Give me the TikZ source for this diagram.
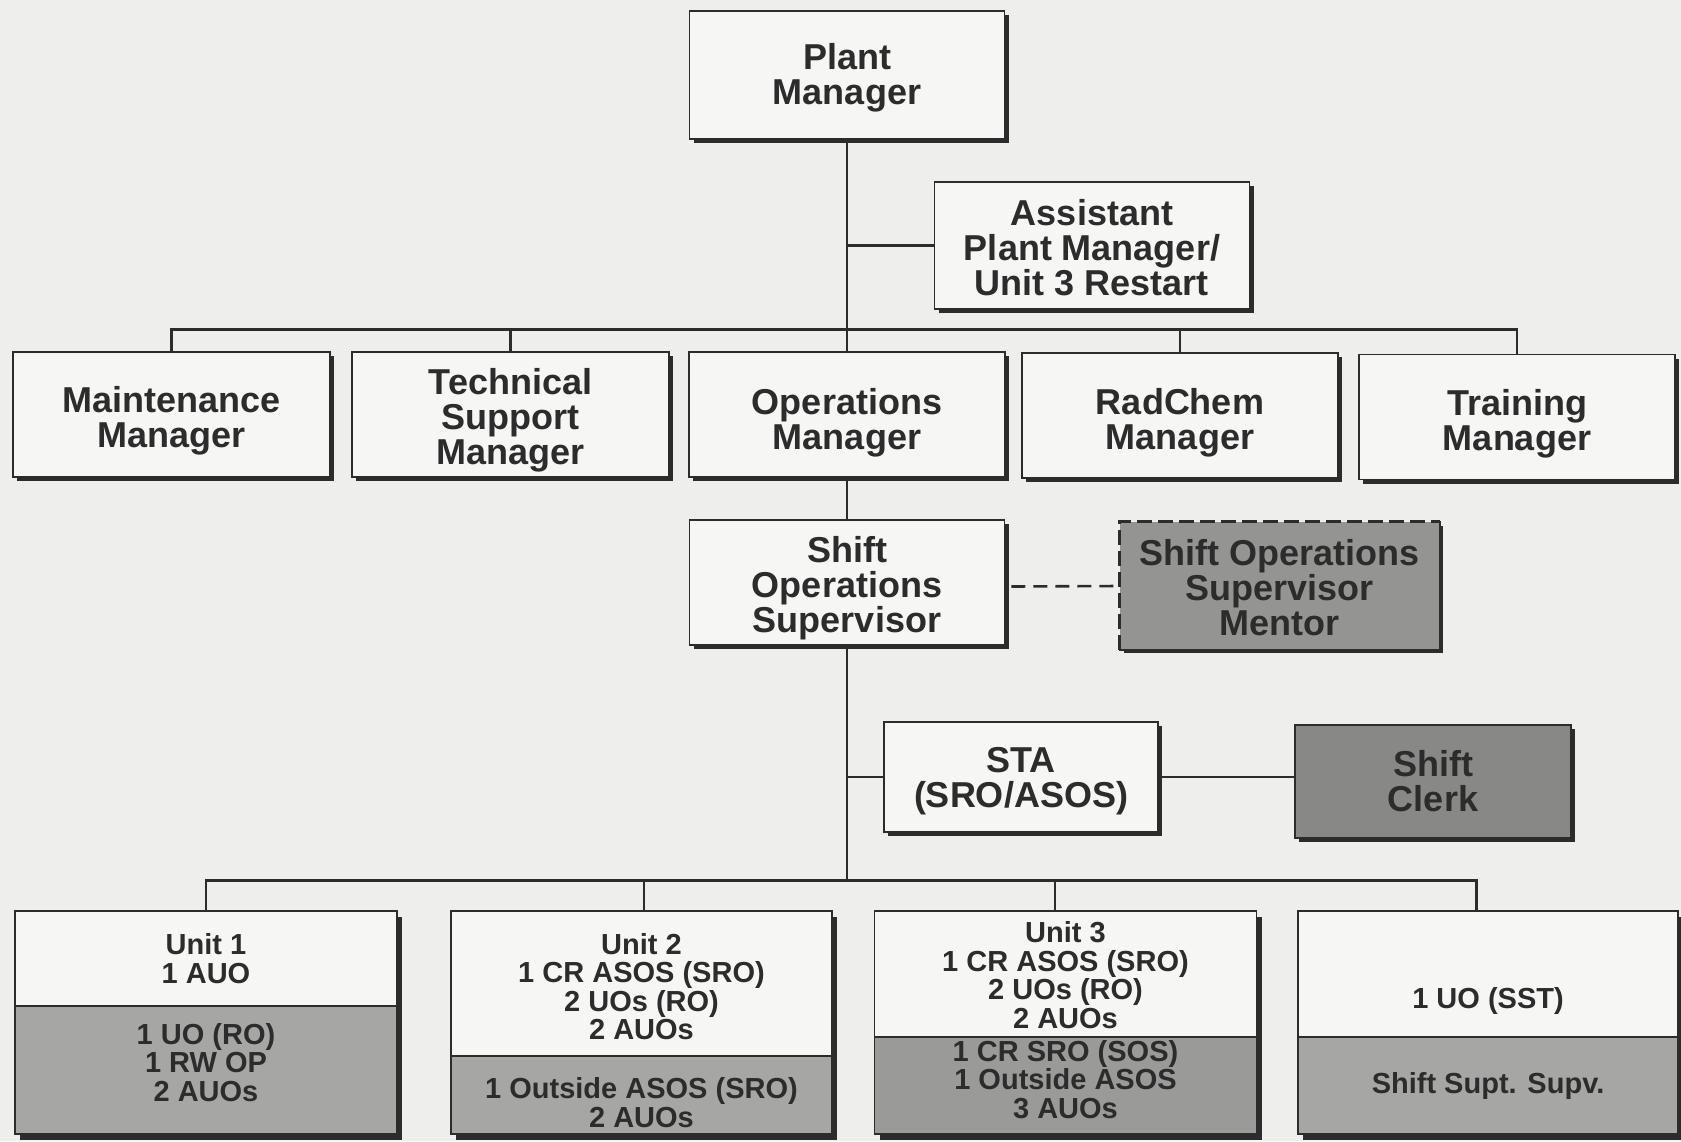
\documentclass[tikz,border=0pt]{standalone}
\usepackage{fontspec}
\setmainfont{Liberation Sans}
\usetikzlibrary{shadows,calc}
\definecolor{bg}{HTML}{EEEEEC}
\definecolor{boxfill}{HTML}{F6F6F4}
\definecolor{ink}{HTML}{2C2C2C}
\definecolor{unitgray}{HTML}{A6A6A4}
\definecolor{unitgrayB}{HTML}{9A9A98}
\definecolor{mentorgray}{HTML}{949492}
\definecolor{clerkgray}{HTML}{888886}
\begin{document}
\begin{tikzpicture}[x=1pt,y=-1pt,
  btext/.style={align=center, inner sep=0pt, text=ink, font=\fontsize{36}{35}\selectfont\bfseries},
  stext/.style={align=center, inner sep=0pt, text=ink, font=\fontsize{29}{28.6}\selectfont\bfseries},
  box/.style={draw=ink, line width=1.8pt, fill=boxfill, inner sep=0pt,
    drop shadow={shadow xshift=4pt, shadow yshift=-4pt, fill=ink, opacity=1}},
  graybox/.style={box, draw=none},
  unitpart/.style={draw=ink, line width=1.8pt, inner sep=0pt, minimum height=#1,
    drop shadow={shadow xshift=5pt, shadow yshift=-6pt, fill=ink, opacity=1}},
  conn/.style={draw=ink, line width=2.8pt},
  dconn/.style={draw=ink, line width=2.6pt, dash pattern=on 14pt off 8pt},
  dborder/.style={draw=ink, line width=3pt, dash pattern=on 15pt off 6pt},
]
\fill[bg] (0,0) rectangle (1681,1141);
\useasboundingbox (0,0) rectangle (1681,1141);

% top levels
\node[box, minimum width=315pt, minimum height=128pt] (pm) at (847,75) {};
\node[btext] (pmt) at ($(pm.center)+(0,2.7)$) {Plant\\Manager};
\node[box, minimum width=315pt, minimum height=127pt] (asst) at (1092,245.5) {};
\node[btext] (asstt) at ($(asst.center)+(0,2)$) {Assistant\\Plant Manager/\\Unit 3 Restart};

% managers row
\node[box, minimum width=317pt, minimum height=125pt] (maint) at (171.5,414.5) {};
\node[btext] (maintt) at ($(maint.center)+(0,6.4)$) {Maintenance\\Manager};
\node[box, minimum width=317pt, minimum height=125pt] (tech) at (510.5,414.5) {};
\node[btext] (techt) at ($(tech.center)+(0,5.4)$) {Technical\\Support\\Manager};
\node[box, minimum width=316pt, minimum height=125pt] (ops) at (847,414.5) {};
\node[btext] (opst) at ($(ops.center)+(0,8)$) {Operations\\Manager};
\node[box, minimum width=316pt, minimum height=125pt] (rad) at (1180,415.5) {};
\node[btext] (radt) at ($(rad.center)+(0,7.6)$) {RadChem\\Manager};
\node[box, minimum width=316pt, minimum height=125pt] (train) at (1517,417) {};
\node[btext] (traint) at ($(train.center)+(0,7)$) {Training\\Manager};

% shift supervisor and mentor
\node[box, minimum width=315pt, minimum height=125pt] (sos) at (847,582.5) {};
\node[btext] (sost) at ($(sos.center)+(0,5.4)$) {Shift\\Operations\\Supervisor};
\node[graybox, fill=mentorgray, minimum width=319pt, minimum height=127pt] (men) at (1279.5,585.5) {};
\draw[dborder] (men.south west) -- (men.north west) -- (men.north east);
\draw[draw=ink, line width=2pt] (men.north east) -- (men.south east) -- (men.south west);
\node[btext] (ment) at ($(men.center)+(0,2)$) {Shift Operations\\Supervisor\\Mentor};

% STA and clerk
\node[box, minimum width=274pt, minimum height=110pt] (sta) at (1021,777) {};
\node[btext] (stat) at ($(sta.center)+(0,3.7)$) {STA\\(SRO/ASOS)};
\node[box, fill=clerkgray, minimum width=276pt, minimum height=113pt] (clerk) at (1433,781.5) {};
\node[btext] (clerkt) at (clerk.center) {Shift\\Clerk};

% units
\node[unitpart=95pt, fill=boxfill, minimum width=382pt] (u1a) at (206,958.5) {};
\node[unitpart=128pt, fill=unitgray, minimum width=382pt] (u1b) at (206,1070) {};
\node[stext] (u1at) at (u1a.center) {Unit 1\\1 AUO};
\node[stext] (u1bt) at ($(u1b.center)+(0,-7.5)$) {1 UO (RO)\\1 RW OP\\2 AUOs};

\node[unitpart=145pt, fill=boxfill, minimum width=381pt] (u2a) at (641.5,983.5) {};
\node[unitpart=78pt, fill=unitgray, minimum width=381pt] (u2b) at (641.5,1095) {};
\node[stext] (u2at) at ($(u2a.center)+(0,3.2)$) {Unit 2\\1 CR ASOS (SRO)\\2 UOs (RO)\\2 AUOs};
\node[stext] (u2bt) at ($(u2b.center)+(0,7.5)$) {1 Outside ASOS (SRO)\\2 AUOs};

\node[unitpart=126pt, fill=boxfill, minimum width=382pt] (u3a) at (1065.5,974) {};
\node[unitpart=97pt, fill=unitgrayB, minimum width=382pt] (u3b) at (1065.5,1085.5) {};
\node[stext] (u3at) at ($(u3a.center)+(0,1)$) {Unit 3\\1 CR ASOS (SRO)\\2 UOs (RO)\\2 AUOs};
\node[stext] (u3bt) at ($(u3b.center)+(0,-6)$) {1 CR SRO (SOS)\\1 Outside ASOS\\3 AUOs};

\node[unitpart=126pt, fill=boxfill, minimum width=380pt] (u4a) at (1488,974) {};
\node[unitpart=97pt, fill=unitgray, minimum width=380pt] (u4b) at (1488,1085.5) {};
\node[stext] (u4at) at ($(u4a.center)+(0,26.8)$) {1 UO (SST)};
\node[stext] (u4bt) at (u4b.center) {Shift Supt. Supv.};

% connectors
\draw[conn] (pm.south) -- (ops.north);
\draw[conn] (asst.west) -- (asst.west -| pm.south);
\draw[conn] (maint.north) -- ++(0,-22) coordinate (busL) -- (busL -| train.north) -- (train.north);
\draw[conn] (tech.north) -- (tech.north |- busL);
\draw[conn] (rad.north) -- (rad.north |- busL);
\draw[conn] (ops.south) -- (sos.north);
\draw[dconn] ($(sos.east)+(6,4)$) -- (men.west |- 0,586);
\coordinate (bus) at (847,881);
\draw[conn] (sos.south) -- (bus);
\draw[conn] (sta.west) -- (sta.west -| sos.south);
\draw[conn] (sta.east) -- (sta.east -| clerk.west);
\draw[conn] (u1a.north) |- ($(u4a.north west)+(179,-30)$) -- ($(u4a.north west)+(179,0)$);
\draw[conn] ($(u2a.north)+(2.5,0)$) -- ++(0,-30);
\draw[conn] ($(u3a.north)+(-10.5,0)$) -- ++(0,-30);
\end{tikzpicture}
\end{document}
